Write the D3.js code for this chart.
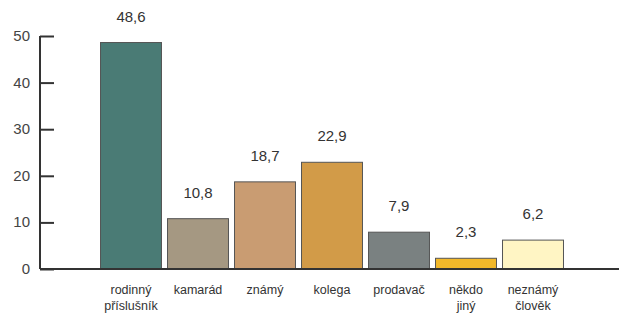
<!DOCTYPE html>
<html>
<head>
<meta charset="utf-8">
<script src="https://cdn.jsdelivr.net/npm/d3@7"></script>
<style>
  body { margin: 0; background: #fff; }
  svg text { font-family: "Liberation Sans", Arial, sans-serif; }
</style>
</head>
<body>
<div class="chart"></div>
<script>
const categories = [["rodinný", "příslušník"], ["kamarád"], ["známý"], ["kolega"], ["prodavač"], ["někdo", "jiný"], ["neznámý", "člověk"]];
const values = [48.6, 10.8, 18.7, 22.9, 7.9, 2.3, 6.2];
const colors = ["#4a7b75", "#a59882", "#c99c72", "#d29b48", "#7a8181", "#f2b82a", "#fff5c4"];
const yTicks = [0, 10, 20, 30, 40, 50];

const width = 619;
const height = 313;
const svg = d3.select(".chart")
    .append("svg")
    .attr("width", width)
    .attr("height", height);

const x = d3.scaleBand()
    .domain(d3.range(values.length))
    .range([97.5, 566.5])
    .paddingInner(0.09)
    .paddingOuter(0.045);

const y = d3.scaleLinear()
    .domain([0, 50])
    .range([269, 36]);

// bars
svg.selectAll("rect")
    .data(values)
    .join("rect")
    .attr("x", (d, i) => x(i))
    .attr("y", d => y(d))
    .attr("width", x.bandwidth())
    .attr("height", d => y(0) - y(d))
    .attr("fill", (d, i) => colors[i])
    .attr("stroke", "#555")
    .attr("stroke-width", 1);

// value labels
svg.selectAll(".val")
    .data(values)
    .join("text")
    .attr("class", "val")
    .attr("x", (d, i) => x(i) + x.bandwidth() / 2)
    .attr("y", d => y(d) - 21)
    .attr("text-anchor", "middle")
    .attr("font-size", 15)
    .attr("fill", "#333")
    .text(d => String(d).replace(".", ","));

// category labels
const cat = svg.selectAll(".cat")
    .data(categories)
    .join("text")
    .attr("class", "cat")
    .attr("text-anchor", "middle")
    .attr("font-size", 12.5)
    .attr("fill", "#333")
    .attr("transform", (d, i) => `translate(${x(i) + x.bandwidth() / 2},294)`);
cat.selectAll("tspan")
    .data(d => d)
    .join("tspan")
    .attr("x", 0)
    .attr("dy", (d, j) => j === 0 ? 0 : 16)
    .text(d => d);

// baseline
svg.append("line")
    .attr("x1", 40).attr("x2", 619)
    .attr("y1", y(0)).attr("y2", y(0))
    .attr("stroke", "#333")
    .attr("stroke-width", 2);

// y axis
const yAxis = svg.append("g")
    .attr("transform", "translate(40,0)")
    .call(d3.axisRight(y).tickValues(yTicks).tickSize(14).tickFormat(""));
yAxis.select(".domain").attr("stroke", "#333").attr("stroke-width", 2).attr("d", `M0,${y(50)}V${y(0)}`);
yAxis.selectAll(".tick line").attr("stroke", "#333").attr("stroke-width", 2);

svg.selectAll(".ylab")
    .data(yTicks)
    .join("text")
    .attr("class", "ylab")
    .attr("x", 30)
    .attr("y", d => y(d) + 5)
    .attr("text-anchor", "end")
    .attr("font-size", 15)
    .attr("fill", "#444")
    .text(d => d);
</script>
</body>
</html>
